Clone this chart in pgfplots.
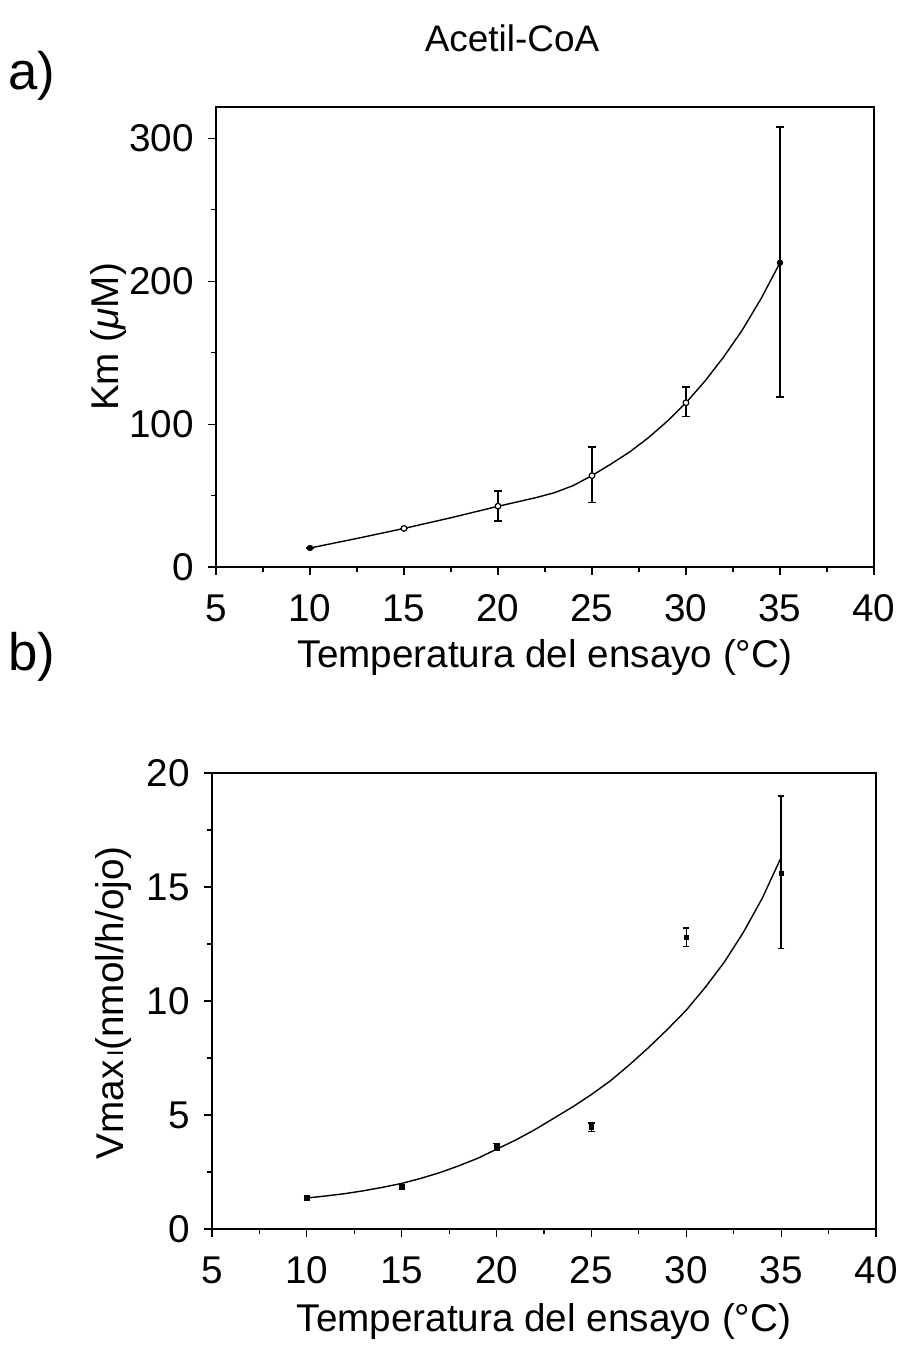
\documentclass[border=0pt]{standalone}
\usepackage{fontspec}
\setmainfont{Liberation Sans}
\usepackage{pgfplots}
\pgfplotsset{compat=1.18}
\begin{document}
\begin{tikzpicture}
\useasboundingbox (0mm,0mm) rectangle (180mm,-269mm);
\pgfplotsset{
  myax/.style={
    scale only axis,
    xmin=5, xmax=40,
    xtick={5,10,...,40},
    minor x tick num=1,
    minor y tick num=1,
    tick align=outside,
    xtick pos=bottom, ytick pos=left,
    major tick length=1.6mm, minor tick length=1.0mm,
    axis line style={line width=1pt},
    every tick/.style={line width=0.7pt, black},
    /pgf/number format/assume math mode=true,
    ticklabel style={font=\fontsize{22}{26}\selectfont},
    yticklabel style={xshift=-1.6mm},
    xticklabel style={anchor=base, yshift=-9.3mm},
    label style={font=\fontsize{22}{26}\selectfont},
    clip=false,
  },
}
\begin{axis}[myax, at={(43.2mm,-113.4mm)}, anchor=south west,
  width=131.6mm, height=92mm,
  ymin=0, ymax=322, ytick={0,100,200,300},
  xlabel={Temperatura del ensayo (°C)},
  ylabel={Km ({\itshape μ}M)},
  xlabel style={at={(axis description cs:0.5,0)}, anchor=center, yshift=-18mm},
  ylabel style={at={(axis description cs:-0.164,0.5)}, anchor=center},
]
\addplot[black, line width=0.8pt] coordinates {
(10,13.3) (12.5,20) (15,27) (17.5,34.5) (20,42.5) (21,45.5) (22,48.5) (23,52) (24,57) (25,64)
(26,72) (27,80.5) (28,90.5) (29,102) (30,115) (31,130) (32,147) (33,166) (34,188) (35,213)};
\addplot[black, only marks, mark=*, mark size=1.6pt, mark options={fill=white, line width=0.7pt},
  error bars/.cd, y dir=both, y explicit, error bar style={line width=0.8pt},
  error mark options={rotate=90, mark size=2.2pt, line width=0.8pt}]
  table[x=x, y=y, y error plus=ep, y error minus=em] {
x y ep em
15 27 0 0
20 42.6 10.5 10.5
25 64 20 19
30 115 11 9.5
};
\addplot[black, only marks, mark=*, mark size=1.6pt,
  error bars/.cd, y dir=both, y explicit, error bar style={line width=0.8pt},
  error mark options={rotate=90, mark size=2.2pt, line width=0.8pt}]
  table[x=x, y=y, y error plus=ep, y error minus=em] {
x y ep em
10 13.3 0 0
35 213 95 94
};
\end{axis}
\begin{axis}[myax, at={(42.4mm,-245.8mm)}, anchor=south west,
  width=132.8mm, height=91.2mm,
  ymin=0, ymax=20, ytick={0,5,...,20},
  xlabel={Temperatura del ensayo (°C)},
  ylabel={Vmax{\fontsize{13}{13}\selectfont\,I}(nmol/h/ojo)},
  xlabel style={at={(axis description cs:0.5,0)}, anchor=center, yshift=-18.4mm},
  ylabel style={at={(axis description cs:-0.149,0.496)}, anchor=center},
]
\addplot[black, line width=0.8pt] coordinates {
(10,1.36) (11,1.45) (12,1.55) (13,1.68) (14,1.83) (15,2.0) (16,2.22) (17,2.47) (18,2.77) (19,3.1)
(20,3.5) (21,3.9) (22,4.35) (23,4.85) (24,5.35) (25,5.9) (26,6.5) (27,7.2) (28,7.95) (29,8.75)
(30,9.6) (31,10.6) (32,11.7) (33,13.0) (34,14.5) (35,16.3)};
\addplot[black, only marks, mark=square*, mark size=1.3pt,
  error bars/.cd, y dir=both, y explicit, error bar style={line width=0.8pt},
  error mark options={rotate=90, mark size=1.8pt, line width=0.8pt}]
  table[x=x, y=y, y error plus=ep, y error minus=em] {
x y ep em
10 1.36 0 0
15 1.84 0.08 0.08
20 3.6 0.15 0.15
25 4.47 0.18 0.18
30 12.8 0.4 0.4
35 15.6 3.4 3.3
};
\end{axis}
\node[font=\fontsize{21}{25}\selectfont] at (102.4mm,-7.6mm) {Acetil-CoA};
\node[font=\fontsize{30}{34}\selectfont] at (6.4mm,-15.2mm) {a)};
\node[font=\fontsize{30}{34}\selectfont] at (6.4mm,-131.4mm) {b)};
\end{tikzpicture}
\end{document}
